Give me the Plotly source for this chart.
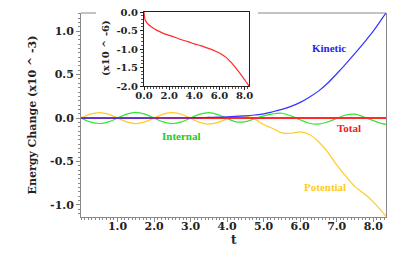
import plotly.graph_objects as go

# ---- data (values in units of 1e-3 for main, 1e-6 for inset) ----
t = [0.0, 0.25, 0.5, 0.75, 1.0, 1.25, 1.5, 1.75, 2.0, 2.25, 2.5, 2.75, 3.0, 3.25, 3.5, 3.75,
     4.0, 4.25, 4.5, 4.75, 5.0, 5.25, 5.5, 5.75, 6.0, 6.25, 6.5, 6.75, 7.0, 7.25, 7.5, 7.75,
     8.0, 8.25, 8.35]
kinetic = [0.0, 0.0, 0.0, 0.0, 0.0, 0.0, 0.0, 0.0, 0.0005, 0.0007, 0.001, 0.002, 0.003, 0.005, 0.007, 0.01,
           0.013, 0.018, 0.025, 0.035, 0.048, 0.072, 0.1, 0.135, 0.18, 0.24, 0.31, 0.4, 0.51, 0.625, 0.745, 0.87,
           1.0, 1.15, 1.21]
internal = [0.0, -0.045, -0.063, -0.045, 0.0, 0.045, 0.065, 0.045, 0.0, -0.045, -0.063, -0.045, 0.0, 0.045, 0.063, 0.04,
            -0.005, -0.045, -0.042, -0.008, 0.025, 0.048, 0.055, 0.025, -0.02, -0.06, -0.07, -0.045, -0.005, 0.035, 0.045, 0.012,
            -0.03, -0.065, -0.073]
potential = [0.0, 0.045, 0.063, 0.045, 0.0, -0.045, -0.065, -0.045, 0.0, 0.045, 0.062, 0.044, -0.003, -0.05, -0.07, -0.05,
             -0.008, 0.03, 0.025, -0.01, -0.075, -0.12, -0.17, -0.175, -0.16, -0.19, -0.27, -0.39, -0.54, -0.67, -0.79, -0.87,
             -0.965, -1.08, -1.13]
total = [0.0] * len(t)

t_err = [0.0, 0.05, 0.1, 0.25, 0.5, 0.75, 1.0, 1.5, 2.0, 2.5, 3.0, 3.5, 4.0, 4.5, 5.0, 5.5, 6.0, 6.25,
         6.5, 6.75, 7.0, 7.25, 7.5, 7.75, 8.0, 8.25, 8.35]
total_err = [0.0, -0.15, -0.22, -0.3, -0.38, -0.44, -0.49, -0.57, -0.63, -0.69, -0.75, -0.8, -0.86, -0.91, -0.97, -1.03,
             -1.11, -1.16, -1.22, -1.3, -1.39, -1.49, -1.6, -1.71, -1.83, -1.95, -2.0]

main_xticks = [1, 2, 3, 4, 5, 6, 7, 8]
main_xticklabels = ["1.0", "2.0", "3.0", "4.0", "5.0", "6.0", "7.0", "8.0"]
main_yticks = [-1.0, -0.5, 0.0, 0.5, 1.0]
main_yticklabels = ["-1.0", "-0.5", "0.0", "0.5", "1.0"]
inset_xticks = [0, 2, 4, 6, 8]
inset_xticklabels = ["0.0", "2.0", "4.0", "6.0", "8.0"]
inset_yticks = [0.0, -0.5, -1.0, -1.5, -2.0]
inset_yticklabels = ["0.0", "-0.5", "-1.0", "-1.5", "-2.0"]

SERIF = "DejaVu Serif"
LBL = "Liberation Serif"
GRAY = "#888888"

fig = go.Figure()
fig.add_trace(go.Scatter(x=t, y=internal, mode="lines", line=dict(color="#33e633", width=1.2, shape="spline"),
                         xaxis="x", yaxis="y", showlegend=False, hoverinfo="skip"))
fig.add_trace(go.Scatter(x=t, y=potential, mode="lines", line=dict(color="#ffcc22", width=1.2, shape="spline"),
                         xaxis="x", yaxis="y", showlegend=False, hoverinfo="skip"))
fig.add_trace(go.Scatter(x=t, y=total, mode="lines", line=dict(color="#ff2a2a", width=2),
                         xaxis="x", yaxis="y", showlegend=False, hoverinfo="skip"))
fig.add_trace(go.Scatter(x=t, y=kinetic, mode="lines", line=dict(color="#3333ff", width=1.2, shape="spline"),
                         xaxis="x", yaxis="y", showlegend=False, hoverinfo="skip"))
fig.add_trace(go.Scatter(x=t_err, y=total_err, mode="lines", line=dict(color="#ff2a2a", width=1.2, shape="spline"),
                         xaxis="x2", yaxis="y2", showlegend=False, hoverinfo="skip"))

PW, PH = 305.0, 205.0
top_main = (217 - 13) / PH

tickfont = dict(family=SERIF, size=11, color="#222222", weight="bold")
fig.update_layout(
    template="none",
    width=407, height=255,
    margin=dict(l=81, r=21, t=12, b=38, autoexpand=False),
    paper_bgcolor="white", plot_bgcolor="white",
    xaxis=dict(domain=[0, 1], range=[0, 8.35], tickvals=main_xticks, ticktext=main_xticklabels,
               automargin=False,
               showline=True, linecolor=GRAY, linewidth=1, mirror=False, showgrid=False, zeroline=False,
               ticks="outside", ticklen=4, tickcolor=GRAY, tickfont=tickfont, ticklabelstandoff=-5,
               minor=dict(dtick=0.1, ticks="outside", ticklen=2, tickcolor=GRAY, showgrid=False)),
    yaxis=dict(domain=[0, top_main], range=[-1.14, 1.21], tickvals=main_yticks, ticktext=main_yticklabels,
               automargin=False,
               showline=True, linecolor=GRAY, linewidth=1, mirror=True, showgrid=False, zeroline=False,
               ticks="outside", ticklen=4, tickcolor=GRAY, tickfont=tickfont,
               minor=dict(dtick=0.05, ticks="outside", ticklen=2, tickcolor=GRAY, showgrid=False)),
    xaxis2=dict(domain=[(144 - 81) / PW, (249 - 81) / PW], anchor="y2", range=[0, 8.35],
                tickvals=inset_xticks, ticktext=inset_xticklabels, automargin=False,
                showline=True, linecolor="#222222", linewidth=1, mirror=True, showgrid=False, zeroline=False,
                ticks="outside", ticklen=3, tickcolor="#222222", ticklabelstandoff=-3,
                tickfont=dict(family=SERIF, size=10, color="#222222", weight="bold"),
                minor=dict(dtick=0.25, ticks="outside", ticklen=2, tickcolor="#555555", showgrid=False)),
    yaxis2=dict(domain=[(217 - 86) / PH, 1.0], anchor="x2", range=[-2.0, 0.0],
                tickvals=inset_yticks, ticktext=inset_yticklabels, automargin=False,
                showline=True, linecolor="#222222", linewidth=1, mirror=True, showgrid=False, zeroline=False,
                ticks="outside", ticklen=3, tickcolor="#222222",
                tickfont=dict(family=SERIF, size=10, color="#222222", weight="bold"),
                minor=dict(dtick=0.1, ticks="outside", ticklen=2, tickcolor="#555555", showgrid=False)),
)

# top border of main plot, interrupted by the inset
fig.add_shape(type="line", xref="paper", yref="paper", x0=0, x1=(96 - 81) / PW, y0=top_main, y1=top_main,
              line=dict(color=GRAY, width=1))
fig.add_shape(type="line", xref="paper", yref="paper", x0=(258 - 81) / PW, x1=1, y0=top_main, y1=top_main,
              line=dict(color=GRAY, width=1))

def ann(text, x, y, color, size=11, family=LBL, **kw):
    fig.add_annotation(text=text, x=x, y=y, xref="x", yref="y", showarrow=False,
                       font=dict(family=family, size=size, color=color, weight="bold"), **kw)

ann("Kinetic", 6.78, 0.81, "#2626e6")
ann("Total", 7.34, -0.12, "#ee2222")
ann("Internal", 2.76, -0.21, "#22cc22")
ann("Potential", 6.69, -0.80, "#ffcc22")

fig.add_annotation(text="Energy Change (x10 ^ -3)", x=(31.5 - 81) / PW, y=(217 - 115) / PH, xref="paper", yref="paper",
                   textangle=-90, showarrow=False, xanchor="center", yanchor="middle",
                   font=dict(family=SERIF, size=11, color="#222222", weight="bold"))
fig.add_annotation(text="t", x=(233.5 - 81) / PW, y=(217 - 240) / PH, xref="paper", yref="paper",
                   showarrow=False, xanchor="center", yanchor="middle",
                   font=dict(family=SERIF, size=12, color="#222222", weight="bold"))
fig.add_annotation(text="(x10 ^ -6)", x=(105 - 81) / PW, y=(217 - 48) / PH, xref="paper", yref="paper",
                   textangle=-90, showarrow=False, xanchor="center", yanchor="middle",
                   font=dict(family=SERIF, size=10, color="#222222", weight="bold"))

fig.write_html("out.html", config={"displayModeBar": False, "staticPlot": True},
               post_script="document.body.style.margin='0';document.body.style.overflow='hidden';")
